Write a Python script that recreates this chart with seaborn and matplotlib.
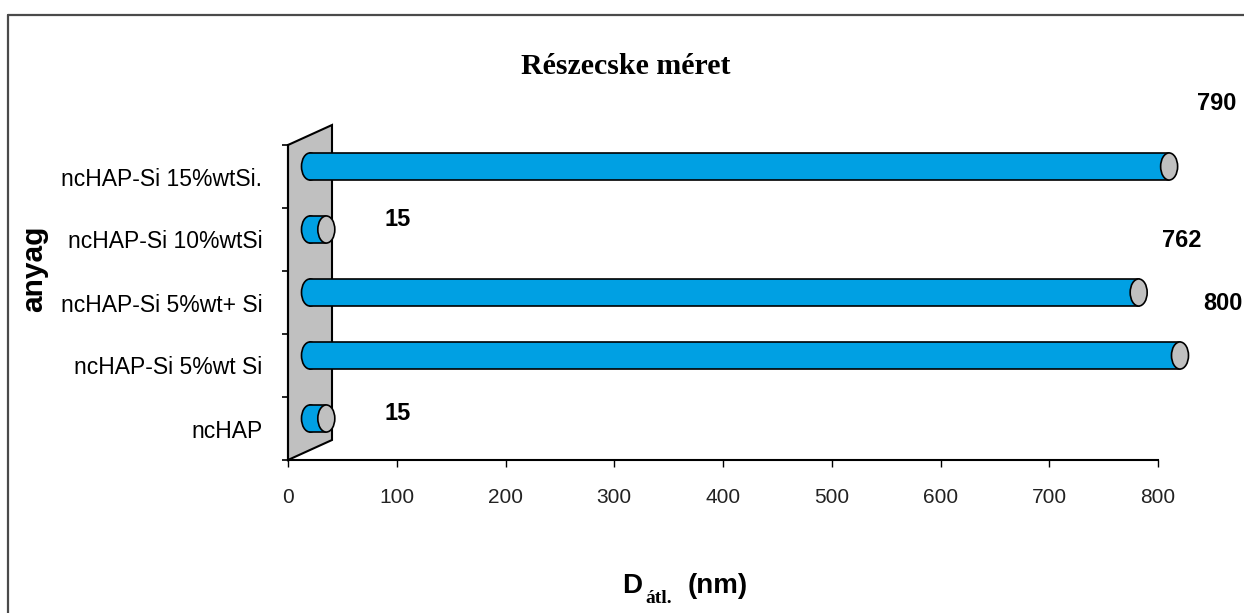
import numpy as np
import pandas as pd
import seaborn as sns
import matplotlib.pyplot as plt
from matplotlib.patches import Ellipse, Polygon
from matplotlib.lines import Line2D
from matplotlib.transforms import ScaledTranslation, IdentityTransform

# --- data -------------------------------------------------------------
materials = ["ncHAP-Si 15%wtSi.", "ncHAP-Si 10%wtSi", "ncHAP-Si 5%wt+ Si",
             "ncHAP-Si 5%wt Si", "ncHAP"]
sizes_nm = [790, 15, 762, 800, 15]
x_ticks = [0, 100, 200, 300, 400, 500, 600, 700, 800]

# label placement (pixels, relative to the bar end on the front plane)
label_dx_px = [70, 93, 65, 65, 93]
label_dy_px = [73, 20, 62, 62, 15]

# --- style ------------------------------------------------------------
sns.set_style("ticks")
plt.rcParams["font.family"] = ["Liberation Sans", "DejaVu Sans"]

BAR_BLUE = "#00A0E3"
CAP_GRAY = "#C0C0C0"
W, H, DPI = 1244, 613, 100
PX = 72.0 / DPI  # points per pixel

fig = plt.figure(figsize=(W / DPI, H / DPI), dpi=DPI)
fig.patch.set_facecolor("white")

# plot area: x from 288 px to 1158 px, y from 145 px to 460 px
ax = fig.add_axes([288 / W, 1 - 460 / H, (1158 - 288) / W, (460 - 145) / H])
ax.set_facecolor("none")

df = pd.DataFrame({"anyag": materials, "D": sizes_nm})
bar_h = 0.43
sns.barplot(data=df, x="D", y="anyag", orient="h", color=BAR_BLUE,
            saturation=1, width=bar_h, linewidth=0, ax=ax, zorder=3)

ax.set_xlim(0, 800)
ax.set_ylim(len(materials) - 0.5, -0.5)

# bars sit halfway back in the 3-D depth (right and up)
depth = ScaledTranslation(22 / DPI, 10 / DPI, fig.dpi_scale_trans)
bar_tr = ax.transData + depth
cap_w = 17 / (870 / 800)  # cap ellipse width in data units

for p in ax.patches:
    p.set_transform(bar_tr)
    p.set_clip_on(False)
    yc = p.get_y() + p.get_height() / 2
    v = p.get_width()
    y0, y1 = p.get_y(), p.get_y() + p.get_height()
    # rounded back end
    left = Ellipse((0, yc), cap_w, bar_h, facecolor=BAR_BLUE, edgecolor="black",
                   linewidth=1.2, transform=bar_tr, zorder=2, clip_on=False)
    ax.add_patch(left)
    # outline along the body
    for yy in (y0, y1):
        ax.add_line(Line2D([0, v], [yy, yy], color="black", linewidth=1.2,
                           transform=bar_tr, zorder=4, clip_on=False))
    # visible end cap
    cap = Ellipse((v, yc), cap_w, bar_h, facecolor=CAP_GRAY, edgecolor="black",
                  linewidth=1.2, transform=bar_tr, zorder=5, clip_on=False)
    ax.add_patch(cap)

# grey side wall
front = ax.transData.transform([(0, len(materials) - 0.5), (0, -0.5)])
back = front[::-1] + np.array([44, 20]) * DPI / 100
wall = Polygon(np.vstack([front, back]), closed=True, facecolor=CAP_GRAY,
               edgecolor="black", linewidth=1.5, transform=IdentityTransform(),
               zorder=1, clip_on=False)
ax.add_patch(wall)

# value labels
for i, (v, dx, dy) in enumerate(zip(sizes_nm, label_dx_px, label_dy_px)):
    ax.annotate(f"{v}", xy=(v, i), xytext=(dx * PX, dy * PX),
                textcoords="offset points", ha="center", va="center",
                fontsize=17, fontweight="bold", color="black",
                annotation_clip=False, zorder=6)

# axes
ax.set_xticks(x_ticks)
ax.set_xticklabels([str(t) for t in x_ticks])
ax.set_yticks(range(len(materials)))
ax.set_yticklabels(materials)
ax.set_yticks(np.arange(-0.5, len(materials), 1.0), minor=True)
ax.tick_params(axis="y", which="major", length=0, pad=18.5, labelsize=16.5,
               labelcolor="black")
ax.tick_params(axis="y", which="minor", length=4, width=1.2, color="black",
               direction="out")
ax.tick_params(axis="x", which="major", length=5, width=1.0, color="black",
               direction="out", pad=15.5, labelsize=15, labelcolor="#222222")
ax.set_xlabel("")
ax.set_ylabel("")
for s in ("top", "right"):
    ax.spines[s].set_visible(False)
for s in ("left", "bottom"):
    ax.spines[s].set_color("black")
    ax.spines[s].set_linewidth(1.5)

# titles
fig.text(626 / W, 1 - 74 / H, "Részecske méret", ha="center", va="baseline",
         fontsize=21.5, fontweight="bold", color="black",
         family=["Liberation Serif", "DejaVu Serif"])
fig.text(34 / W, 1 - 269 / H, "anyag", rotation=90, ha="center", va="center",
         fontsize=21.5, fontweight="bold", color="black")
fig.text(622 / W, 1 - 593 / H, "D", ha="left", va="baseline",
         fontsize=20, fontweight="bold", color="black")
fig.text(645 / W, 1 - 603 / H, "átl.", ha="left", va="baseline",
         fontsize=14, fontweight="bold", color="black",
         family=["Liberation Serif", "DejaVu Serif"])
fig.text(688 / W, 1 - 593 / H, "(nm)", ha="left", va="baseline",
         fontsize=20, fontweight="bold", color="black")

# frame lines
fig.add_artist(Line2D([8 / W, 1], [1 - 15 / H, 1 - 15 / H], color="#4a4a4a",
                      linewidth=1.6, transform=fig.transFigure))
fig.add_artist(Line2D([8 / W, 8 / W], [0, 1 - 15 / H], color="#4a4a4a",
                      linewidth=1.6, transform=fig.transFigure))

fig.savefig("out.png", dpi=DPI)
